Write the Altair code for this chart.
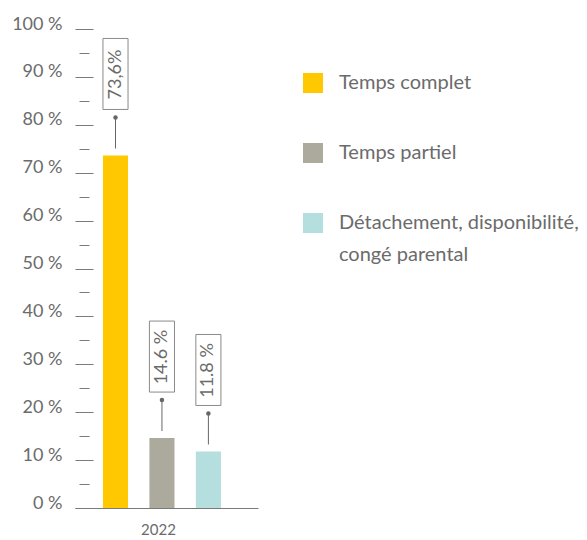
import altair as alt
import pandas as pd

# ---- data ----
years = ["2022", "2022", "2022"]
categories = [
    "Temps complet",
    "Temps partiel",
    "Détachement, disponibilité, congé parental",
]
values = [73.6, 14.6, 11.8]
value_labels = ["73,6%", "14.6 %", "11.8 %"]
colors = ["#FFC800", "#ABAA9D", "#B5DEDF"]
y_major = list(range(0, 101, 10))
y_minor = list(range(5, 100, 10))
legend_third_lines = ["Détachement, disponibilité,", "\\u00a0congé parental"]

df = pd.DataFrame(
    {"annee": years, "categorie": categories, "valeur": values, "etiquette": value_labels}
)

FONT = "Lato"
TXT = "#6b6b6b"
TICK = "#7a7a7a"

x_enc = alt.X(
    "annee:N",
    title=None,
    scale=alt.Scale(paddingInner=0, paddingOuter=0),
    axis=alt.Axis(
        labelAngle=0,
        ticks=False,
        domainColor=TICK,
        labelFontSize=15,
        labelColor=TXT,
        labelFont=FONT,
        labelPadding=14,
        labelBaseline="top",
        labelOffset=-8,
    ),
)
xo_enc = alt.XOffset(
    "categorie:N",
    sort=categories,
    scale=alt.Scale(paddingInner=0.46, paddingOuter=0.7, align=0.43),
)
y_scale = alt.Scale(domain=[0, 100])

label_expr = (
    "indexof(datum.label, 'congé') > 0 ? "
    + "[" + ", ".join("'" + s + "'" for s in legend_third_lines) + "]"
    + " : datum.label"
)

base = alt.Chart(df)

bars = base.mark_bar().encode(
    x=x_enc,
    xOffset=xo_enc,
    y=alt.Y(
        "valeur:Q",
        scale=y_scale,
        title=None,
        axis=alt.Axis(
            values=y_major,
            tickSize=18,
            offset=-18,
            labelPadding=13,
            domain=False,
            grid=False,
            labelExpr="datum.value + ' %'",
            labelBaseline="alphabetic",
            labelFontSize=18,
            labelColor=TXT,
            labelFont=FONT,
            tickColor=TICK,
            orient="left",
        ),
    ),
    color=alt.Color(
        "categorie:N",
        sort=categories,
        scale=alt.Scale(domain=categories, range=colors),
        legend=alt.Legend(
            title=None,
            orient="none",
            legendX=228,
            legendY=44,
            symbolType="square",
            symbolSize=400,
            symbolStrokeWidth=0,
            labelFontSize=20,
            labelFont=FONT,
            labelColor=TXT,
            labelOffset=16,
            rowPadding=50,
            labelLimit=320,
            padding=0,
            labelExpr=label_expr,
        ),
    ),
)

rules = base.mark_rule(color="#666666", strokeWidth=1, yOffset=-7, y2Offset=-38).encode(
    x=x_enc,
    xOffset=xo_enc,
    y=alt.Y(
        "valeur:Q",
        scale=y_scale,
        title=None,
        axis=alt.Axis(
            values=y_minor,
            tickSize=10,
            offset=-14,
            labels=False,
            domain=False,
            grid=False,
            tickColor=TICK,
            orient="left",
        ),
    ),
    y2="valeur:Q",
)

dots = base.mark_circle(size=20, color="#666666", opacity=1, yOffset=-38).encode(
    x=x_enc,
    xOffset=xo_enc,
    y=alt.Y("valeur:Q", scale=y_scale, axis=None),
)

boxes = base.mark_rect(
    fill="white", stroke="#8a8a8a", strokeWidth=1, yOffset=-46, y2Offset=-117
).encode(
    x=x_enc,
    xOffset=xo_enc,
    y=alt.Y("valeur:Q", scale=y_scale, axis=None),
    y2="valeur:Q",
)

texts = base.mark_text(
    angle=270, fontSize=18, color=TXT, font=FONT, yOffset=-81
).encode(
    x=x_enc,
    xOffset=xo_enc,
    y=alt.Y("valeur:Q", scale=y_scale, axis=None),
    text="etiquette:N",
)

chart = (
    alt.layer(bars, rules, dots, boxes, texts)
    .resolve_axis(y="independent")
    .properties(
        width=183,
        height=479,
        autosize=alt.AutoSizeParams(type="none"),
        padding={"left": 67, "top": 21, "right": 321, "bottom": 30},
    )
    .configure(
        view=alt.ViewConfig(stroke=None),
        style={"guide-label": {"lineHeight": 32}},
    )
)

chart.save("out.html", embed_options={"renderer": "svg", "actions": False})
